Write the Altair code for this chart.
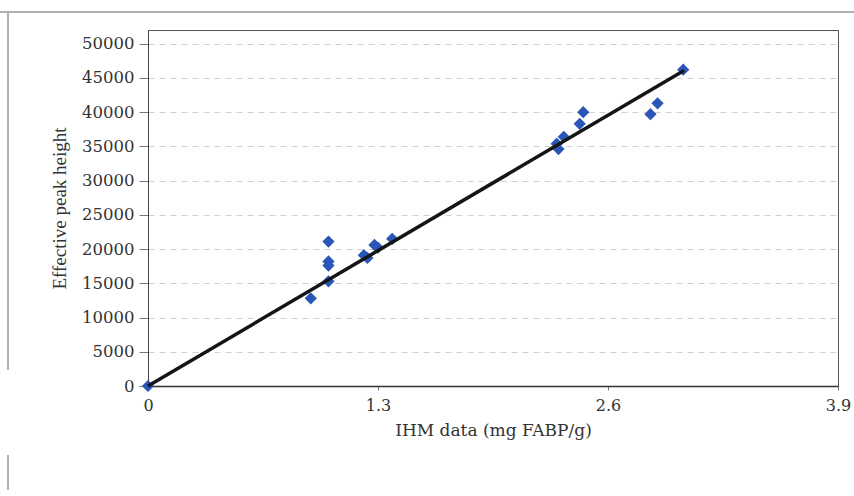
import altair as alt
import pandas as pd

# Measured points (IHM data, effective peak height)
ihm_x = [0.0, 0.92, 1.02, 1.02, 1.02, 1.02, 1.22, 1.24, 1.28, 1.30, 1.38,
         2.31, 2.32, 2.35, 2.44, 2.46, 2.84, 2.88, 3.025]
peak_y = [0, 12800, 21100, 18200, 17600, 15300, 19100, 18700, 20600, 20200, 21500,
          35400, 34600, 36400, 38300, 40000, 39700, 41300, 46200]

# Linear trendline through origin
trend_x = [0.0, 3.03]
trend_y = [0, 46100]

y_ticks = [0, 5000, 10000, 15000, 20000, 25000, 30000, 35000, 40000, 45000, 50000]
x_ticks = [0, 1.3, 2.6, 3.9]

pts = pd.DataFrame({"x": ihm_x, "y": peak_y})
trend = pd.DataFrame({"x": trend_x, "y": trend_y})

FONT_H = "DejaVu Serif"
FONT_V = "Liberation Serif"

xscale = alt.Scale(domain=[0, 3.9], nice=False, zero=True)
yscale = alt.Scale(domain=[0, 52000], nice=False)

xaxis = alt.Axis(values=x_ticks, title="IHM data (mg FABP/g)", grid=False,
                 labelFontSize=16, titleFontSize=17, labelFont=FONT_H, titleFont=FONT_H,
                 labelColor="#333", titleColor="#333", titleFontWeight="normal",
                 domainColor="#333", domainWidth=1.5, tickColor="#777", tickSize=4,
                 labelPadding=7, titlePadding=9, labelOverlap=False,
                 labelExpr="datum.value == 0 ? '0' : format(datum.value, '.1f')",
                 labelFlush=False)
yaxis = alt.Axis(values=y_ticks, title="Effective peak height", grid=True,
                 gridColor="#d0d0d0", gridDash=[6, 5], gridWidth=1,
                 labelFontSize=16.5, titleFontSize=19, labelFont=FONT_H, titleFont=FONT_V,
                 labelColor="#333", titleColor="#333", titleFontWeight="normal",
                 domainColor="#444", tickColor="#777", tickSize=9, labelPadding=5,
                 titlePadding=12, format="d", labelOverlap=False, labelFlush=False)

X = alt.X("x:Q", scale=xscale, axis=xaxis)
Y = alt.Y("y:Q", scale=yscale, axis=yaxis)

line = alt.Chart(trend).mark_line(color="#151515", strokeWidth=3.5).encode(x=X, y=Y)

points = alt.Chart(pts).mark_point(shape="diamond", filled=True, size=150,
                                    color="#2a56b8", opacity=1).encode(x=X, y=Y)

# faint outer chart-area frame (top and left edges)
frame_top = alt.Chart(pts).mark_rule(color="#b0b0b0", strokeWidth=1).encode(
    x=alt.value(-148), x2=alt.value(706), y=alt.value(-18))
frame_left = alt.Chart(pts).mark_rule(color="#b0b0b0", strokeWidth=1).encode(
    x=alt.value(-140), y=alt.value(-18), y2=alt.value(340))
frame_left2 = alt.Chart(pts).mark_rule(color="#b0b0b0", strokeWidth=1).encode(
    x=alt.value(-140), y=alt.value(425), y2=alt.value(460))

chart = alt.layer(points, line, frame_top, frame_left, frame_left2).properties(
    width=690, height=356,
    autosize=alt.AutoSizeParams(type="none"),
    padding={"left": 148, "top": 30, "right": 16, "bottom": 110},
    background="white",
).configure_view(stroke="#555", strokeWidth=1)

chart.save("out.html", embed_options={"renderer": "svg", "actions": False})
